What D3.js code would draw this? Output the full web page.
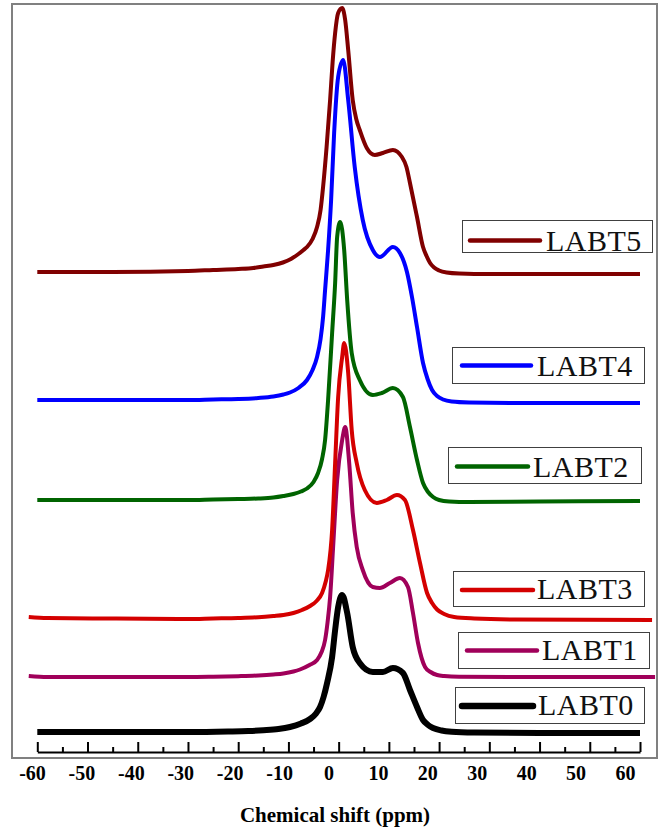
<!DOCTYPE html>
<html>
<head>
<meta charset="utf-8">
<script src="https://cdn.jsdelivr.net/npm/d3@7"></script>
<style>
  html, body { margin: 0; padding: 0; background: #fff; }
  svg { display: block; }
</style>
</head>
<body>
<svg id="chart" width="660" height="829"></svg>
<script>
// ---------------- DATA ----------------
const seriesNames = ["LABT0", "LABT1", "LABT3", "LABT2", "LABT4", "LABT5"];

const xTicksMajor = [-60, -50, -40, -30, -20, -10, 0, 10, 20, 30, 40, 50, 60];
const xTicksMinor = [-55, -45, -35, -25, -15, -5, 5, 15, 25, 35, 45, 55];
const xTickLabels = ["-60", "-50", "-40", "-30", "-20", "-10", "0", "10", "20", "30", "40", "50", "60"];
const xAxisTitle = "Chemical shift (ppm)";

const ppm_LABT5 = [-60, -45, -30, -25, -20, -17, -15, -13, -11.1, -9.5, -8, -7, -6.3, -5.2, -4.3, -3.6, -3.1, -2.4, -1.7, -1.2, -0.7, -0.1, 0.7, 1.3, 1.9, 2.8, 3.5, 4.2, 5.6, 7.2, 8.8, 10.8, 12.6, 13.5, 14.2, 15.6, 16.8, 17.5, 18.2, 19, 20, 21.5, 24, 30, 45, 60];
const int_LABT5 = [485, 485, 486, 487, 488, 489, 490.5, 492, 494.5, 498, 503, 507, 510, 518, 530, 547, 570, 610, 657, 695, 724, 744, 749, 737, 707, 657, 638, 627, 609, 602, 604, 607, 600, 590, 574, 540, 510, 501, 494, 489.5, 486.5, 484.5, 483.5, 483, 483, 483];

const ppm_LABT4 = [-60, -45, -30, -25, -20, -16, -13, -11, -9.7, -8, -6.3, -5.2, -4.3, -3.6, -3.1, -2.7, -2.1, -1.5, -0.9, -0.1, 0.9, 1.9, 3.2, 4.8, 6.8, 8.2, 10.8, 12.2, 13.6, 14.6, 15.6, 16.8, 17.7, 18.6, 19.6, 20.8, 22.5, 26, 35, 60];
const int_LABT4 = [357, 357, 357, 357.5, 358, 359, 360.5, 362.5, 364.5, 369, 377, 387, 400, 418, 440, 467, 507, 557, 624, 680, 697, 657, 590, 537, 507, 500, 510, 504, 485, 460, 430, 394, 378, 367, 361, 357.5, 355.5, 354.5, 354, 354];

const ppm_LABT2 = [-60, -45, -30, -25, -20, -16, -13, -11, -9, -7.5, -6.3, -5, -4.1, -3.3, -2.7, -2.1, -1.3, -0.7, -0.3, 0.3, 1.1, 1.7, 2.6, 4.2, 6.8, 8.6, 10.8, 12.8, 14.2, 15.6, 16.8, 17.8, 18.8, 20, 22, 26, 40, 60];
const int_LABT2 = [257, 257, 257, 257.5, 258, 258.5, 259.5, 261, 263, 265.5, 268.5, 275, 284, 298, 317, 357, 424, 474, 520, 535, 507, 457, 404, 377, 362, 364, 369, 360, 330, 297, 274, 265, 260, 257, 255.5, 255, 255.5, 256];

const ppm_LABT3 = [-61.7, -58, -45, -30, -25, -20, -16, -13, -11, -9, -7.3, -5.7, -4.4, -3.3, -2.6, -2.1, -1.3, -0.7, -0.1, 0.7, 1.1, 1.9, 2.6, 3.6, 5.2, 7.6, 9.6, 11.6, 13.2, 14.8, 16.2, 17.6, 18.6, 19.6, 21, 23, 27, 35, 62.4];
const int_LABT3 = [140, 139, 138.5, 138, 138.5, 139, 139.8, 141, 142, 144, 147, 151, 156, 164, 175, 187, 227, 294, 360, 400, 414, 384, 327, 294, 267, 254, 257, 262, 257, 227, 194, 164, 154, 147.5, 143, 140, 138.5, 137.5, 137];

const ppm_LABT1 = [-61.7, -58, -45, -30, -25, -20, -16, -13, -11, -9, -7.7, -5.8, -4.3, -3.4, -2.7, -2.2, -1.7, -1.1, -0.3, 0.7, 1.3, 2.1, 2.8, 3.6, 4.8, 6.8, 8.2, 10.2, 12.2, 13.8, 14.8, 15.8, 17.2, 18.3, 19.6, 21, 24, 40, 63];
const int_LABT1 = [81, 80, 80, 80, 80.3, 80.8, 81.5, 82.5, 83.5, 85.5, 87.5, 92, 97, 105, 117, 135, 160, 210, 277, 317, 330, 294, 244, 210, 187, 170, 169, 174, 179, 170, 144, 114, 90, 85, 82, 81, 80.3, 80, 80];

const ppm_LABT0 = [-60, -45, -30, -22, -18, -15, -12, -9.7, -7.5, -5.7, -4.5, -3.7, -3, -2.3, -1.3, -0.7, -0.1, 0.7, 1.7, 2.8, 4.2, 6.8, 8.8, 10.8, 12.8, 14.2, 15.6, 16.8, 17.8, 18.8, 20.5, 22.5, 27, 40, 60];
const int_LABT0 = [25, 25, 25, 25.5, 26, 26.8, 28, 30, 33.5, 38, 43.5, 50, 60, 74, 100, 127, 150, 162, 144, 110, 94, 85, 85, 89, 84, 67, 50, 37, 32, 29, 26.5, 25.3, 24.5, 24, 24];

// ---------------- STYLE / LAYOUT ----------------
const seriesStyle = {
  LABT5: { color: "#800000", width: 4 },
  LABT4: { color: "#0000ff", width: 4 },
  LABT2: { color: "#006400", width: 4 },
  LABT3: { color: "#d40000", width: 4 },
  LABT1: { color: "#a0005a", width: 4 },
  LABT0: { color: "#000000", width: 6 }
};
// legend boxes: [x0, y0, x1, y1], line [x0, x1, y], text [x, baseline]
const legendLayout = {
  LABT5: { box: [462, 220, 652, 252], line: [470, 540, 240.5], text: [546, 251] },
  LABT4: { box: [452, 347, 644, 383], line: [462, 531, 365.5], text: [537, 376] },
  LABT2: { box: [448, 447, 641, 483], line: [457, 528, 466.5], text: [533, 476.5] },
  LABT3: { box: [453, 571, 644, 606], line: [462, 533, 590], text: [537, 598.5] },
  LABT1: { box: [458, 632, 649, 668], line: [467, 537, 650.5], text: [542, 660] },
  LABT0: { box: [455, 687, 644, 723], line: [462, 533, 706], text: [538, 715] }
};

const dataBySeries = {
  LABT5: d3.zip(ppm_LABT5, int_LABT5),
  LABT4: d3.zip(ppm_LABT4, int_LABT4),
  LABT2: d3.zip(ppm_LABT2, int_LABT2),
  LABT3: d3.zip(ppm_LABT3, int_LABT3),
  LABT1: d3.zip(ppm_LABT1, int_LABT1),
  LABT0: d3.zip(ppm_LABT0, int_LABT0)
};

const serif = "'Liberation Serif', 'Times New Roman', Times, serif";
const svg = d3.select("#chart");

// scales
const x = d3.scaleLinear().domain([-60, 60]).range([37.3, 640]);
const xLabel = d3.scaleLinear().domain([-60, 60]).range([32, 625]);
const y = d3.scaleLinear().domain([0, 750]).range([757, 7]);

// frame
svg.append("rect")
  .attr("x", 12).attr("y", 4).attr("width", 645).attr("height", 754)
  .attr("fill", "none").attr("stroke", "#808080").attr("stroke-width", 2);

const axisY = 752;

// major ticks (inward)
svg.append("g")
  .attr("transform", `translate(0,${axisY})`)
  .call(d3.axisBottom(x).tickValues(xTicksMajor).tickSizeInner(-10).tickSizeOuter(0).tickFormat(""))
  .call(g => g.select(".domain").attr("stroke", "#000").attr("stroke-width", 2))
  .call(g => g.selectAll(".tick line").attr("stroke", "#000").attr("stroke-width", 2));

// minor ticks
svg.append("g")
  .attr("transform", `translate(0,${axisY})`)
  .call(d3.axisBottom(x).tickValues(xTicksMinor).tickSizeInner(-5).tickSizeOuter(0).tickFormat(""))
  .call(g => g.select(".domain").remove())
  .call(g => g.selectAll(".tick line").attr("stroke", "#000").attr("stroke-width", 2));

// tick labels
svg.append("g")
  .attr("transform", `translate(0,${axisY})`)
  .call(d3.axisBottom(xLabel).tickValues(xTicksMajor).tickSize(0)
        .tickFormat((d, i) => xTickLabels[i]))
  .attr("font-family", serif)
  .call(g => g.select(".domain").remove())
  .call(g => g.selectAll(".tick text")
      .attr("y", 28).attr("dy", 0)
      .attr("fill", "#000")
      .style("font-family", serif).style("font-weight", "bold").style("font-size", "20px"));

// axis title
svg.append("text")
  .attr("x", 335).attr("y", 822)
  .attr("text-anchor", "middle")
  .style("font-family", serif).style("font-weight", "bold").style("font-size", "21px")
  .text(xAxisTitle);

// curves
const line = d3.line()
  .x(d => x(d[0]))
  .y(d => y(d[1]))
  .curve(d3.curveMonotoneX);

seriesNames.forEach(name => {
  const st = seriesStyle[name];
  svg.append("path")
    .datum(dataBySeries[name])
    .attr("d", line)
    .attr("fill", "none")
    .attr("stroke", st.color)
    .attr("stroke-width", st.width)
    .attr("stroke-linejoin", "round")
    .attr("stroke-linecap", "butt");
});

// legends
seriesNames.forEach(name => {
  const L = legendLayout[name];
  const st = seriesStyle[name];
  const g = svg.append("g");
  g.append("rect")
    .attr("x", L.box[0] + 0.5).attr("y", L.box[1] + 0.5)
    .attr("width", L.box[2] - L.box[0]).attr("height", L.box[3] - L.box[1])
    .attr("fill", "#fff").attr("stroke", "#404040").attr("stroke-width", 1);
  g.append("line")
    .attr("x1", L.line[0]).attr("x2", L.line[1])
    .attr("y1", L.line[2]).attr("y2", L.line[2])
    .attr("stroke", st.color).attr("stroke-width", st.width + 0.5)
    .attr("stroke-linecap", "round");
  g.append("text")
    .attr("x", L.text[0]).attr("y", L.text[1])
    .attr("fill", "#111")
    .style("font-family", serif).style("font-size", "30px")
    .style("letter-spacing", "0.5px")
    .text(name);
});
</script>
</body>
</html>
